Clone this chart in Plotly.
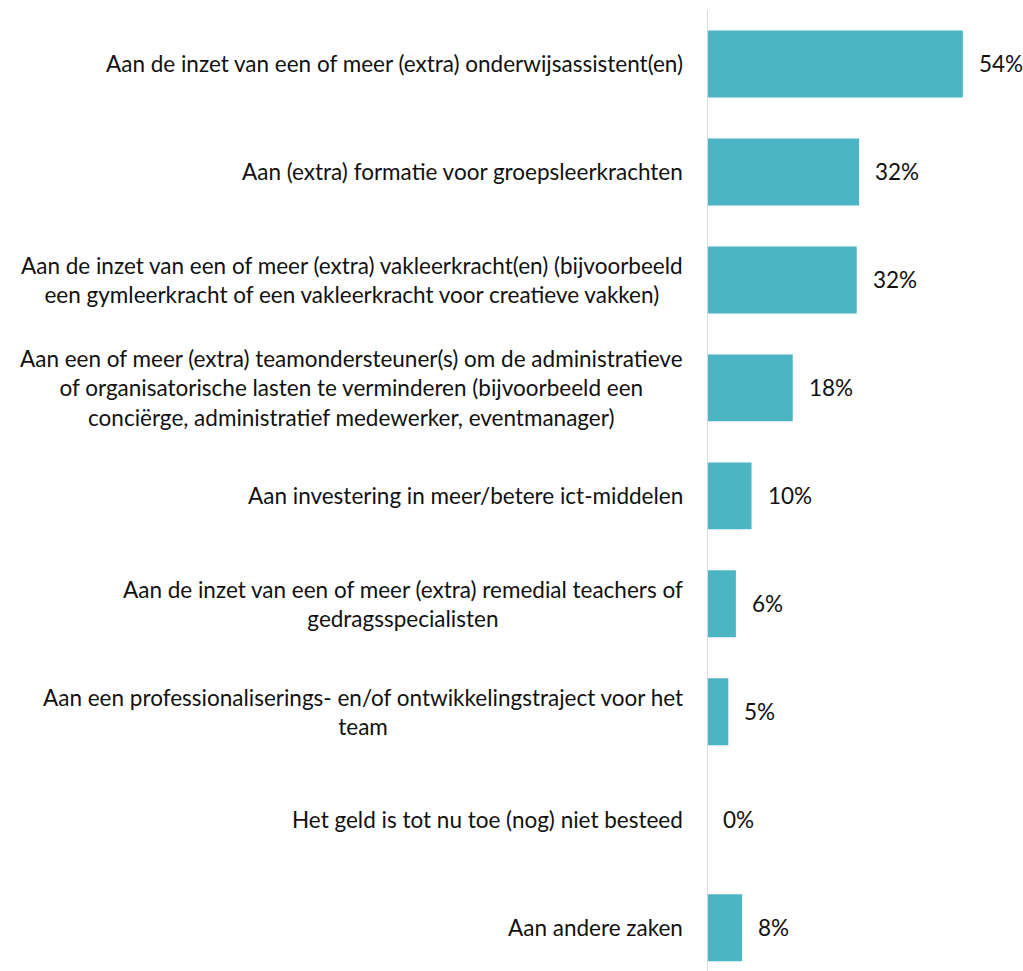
import plotly.graph_objects as go

categories = [
    "Aan de inzet van een of meer (extra) onderwijsassistent(en)",
    "Aan (extra) formatie voor groepsleerkrachten",
    "Aan de inzet van een of meer (extra) vakleerkracht(en) (bijvoorbeeld<br>een gymleerkracht of een vakleerkracht voor creatieve vakken)",
    "Aan een of meer (extra) teamondersteuner(s) om de administratieve<br>of organisatorische lasten te verminderen (bijvoorbeeld een<br>conciërge, administratief medewerker, eventmanager)",
    "Aan investering in meer/betere ict-middelen",
    "Aan de inzet van een of meer (extra) remedial teachers of<br>gedragsspecialisten",
    "Aan een professionaliserings- en/of ontwikkelingstraject voor het<br>team",
    "Het geld is tot nu toe (nog) niet besteed",
    "Aan andere zaken",
]
values = [54.0, 32.1, 31.6, 18.1, 9.4, 6.1, 4.5, 0.0, 7.4]
value_labels = ["54%", "32%", "32%", "18%", "10%", "6%", "5%", "0%", "8%"]

ids = list(range(len(categories)))

FONT = "Lato"
BAR = "#4BB5C4"
FS = 22.5
TXT = "#111111"

fig = go.Figure()
fig.add_trace(go.Bar(
    x=values, y=ids, orientation="h",
    marker=dict(color=BAR, line=dict(width=0)),
    hoverinfo="skip",
))

annotations = []
for i, (cat, v, lab) in enumerate(zip(categories, values, value_labels)):
    annotations.append(dict(
        x=0, xref="paper", y=i, yref="y", text=cat, showarrow=False,
        xanchor="right", yanchor="middle", align="center", xshift=-22,
        font=dict(family=FONT, size=FS, color=TXT),
    ))
    annotations.append(dict(
        x=v, xref="x", y=i, yref="y", text=lab, showarrow=False,
        xanchor="left", yanchor="middle", xshift=14,
        font=dict(family=FONT, size=FS, color=TXT),
    ))

fig.update_layout(
    width=1023, height=971,
    margin=dict(l=707, r=0, t=10, b=0),
    paper_bgcolor="white", plot_bgcolor="white",
    bargap=0.38,
    showlegend=False,
    annotations=annotations,
    xaxis=dict(range=[0, 66.7], visible=False, fixedrange=True),
    yaxis=dict(range=[8.401, -0.5], showticklabels=False, showgrid=False,
               zeroline=False, showline=False, ticks="", fixedrange=True),
    shapes=[dict(type="line", xref="x", yref="paper", x0=0, x1=0, y0=0, y1=1,
                 line=dict(color="#D9D9D9", width=2))],
)

fig.write_html("out.html", config={"displayModeBar": False},
               post_script="document.body.style.margin='0px';document.body.style.overflow='hidden';")
